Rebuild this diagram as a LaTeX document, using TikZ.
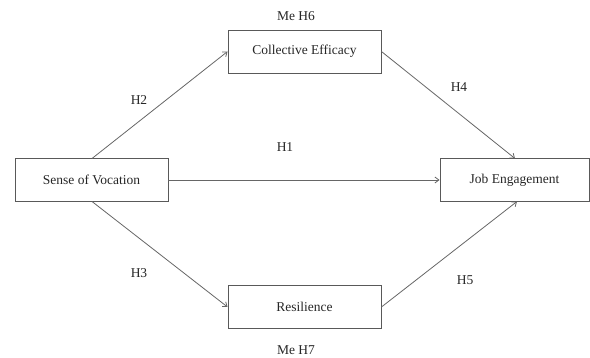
\documentclass[tikz,border=0pt]{standalone}
\usepackage{fontspec}
\setmainfont{Liberation Serif}
\usetikzlibrary{arrows.meta}
\begin{document}
\begin{tikzpicture}[x=1pt,y=-1pt,
  box/.style={draw=black!65,line width=0.9pt,minimum height=43pt,font=\fontsize{13.5}{16}\selectfont,text=black!85,inner sep=0pt},
  lbl/.style={font=\fontsize{13.5}{16}\selectfont,text=black!85},
  conn/.style={draw=black!60,line width=0.8pt,-{Straight Barb[length=4pt,width=6pt]}}]
\useasboundingbox (0,0) rectangle (590,358);
\node[box,minimum width=153pt] (ce) at (304.5,51.5) {Collective Efficacy};
\node[box,minimum width=153pt] (sv) at (91.5,180) {Sense of Vocation};
\node[box,minimum width=149pt] (je) at (514.5,180) {Job Engagement};
\node[box,minimum width=153pt] (re) at (304.5,307) {Resilience};
\node[lbl] (m6) at (296,16) {Me H6};
\node[lbl] (m7) at (296,350) {Me H7};
\node[lbl] (h1) at (285,147) {H1};
\node[lbl] (h2) at (139,100) {H2};
\node[lbl] (h3) at (139,273) {H3};
\node[lbl] (h4) at (459,87) {H4};
\node[lbl] (h5) at (465,280) {H5};
\coordinate (svt) at (92,158.5);
\coordinate (svb) at (92,201.5);
\coordinate (jet) at (515,158.5);
\coordinate (jeb) at (517,201.5);
\draw[conn] (svt) -- (ce.west);
\draw[conn] (ce.east) -- (jet);
\draw[conn] (sv.east) -- (je.west);
\draw[conn] (svb) -- (re.west);
\draw[conn] (re.east) -- (jeb);
\end{tikzpicture}
\end{document}
